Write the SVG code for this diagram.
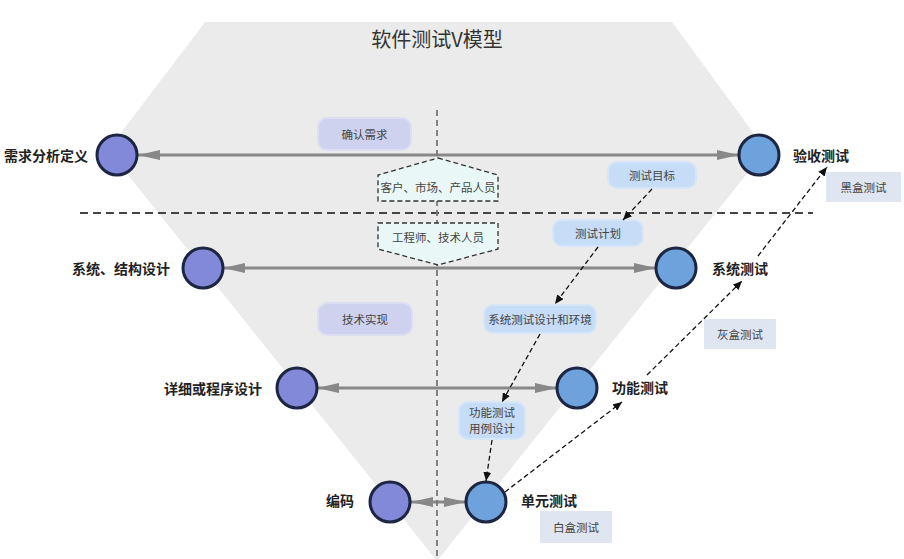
<svg xmlns="http://www.w3.org/2000/svg" width="904" height="559" viewBox="0 0 904 559">
<style>
.t{font-family:"Noto Sans CJK SC","Liberation Sans",sans-serif;}
.lbl{font-family:"Noto Sans CJK SC","Liberation Sans",sans-serif;font-size:14px;font-weight:bold;fill:#222;dominant-baseline:central;}
.bt{font-family:"Noto Sans CJK SC","Liberation Sans",sans-serif;font-size:11.5px;fill:#444;text-anchor:middle;dominant-baseline:central;}
.cl{fill:#8289d8;stroke:#1c2541;stroke-width:3;}
.cr{fill:#6ea2dc;stroke:#1c2541;stroke-width:3;}
.harr{stroke:#888;stroke-width:3;fill:none;marker-start:url(#ga);marker-end:url(#ga);}
.darr{stroke:#111;stroke-width:1.3;stroke-dasharray:5 3;fill:none;marker-end:url(#da);}
.lav{fill:#cfd2ee;stroke:#dcdff2;stroke-width:2;}
.blu{fill:#c6dcf7;stroke:#d6e6f9;stroke-width:2;}
.gb{fill:#dfe6f1;}
.hex{fill:#e9f8f6;stroke:#333;stroke-width:1.3;stroke-dasharray:5 3;}
</style>
<defs>
<marker id="ga" markerUnits="userSpaceOnUse" markerWidth="22" markerHeight="10" refX="22" refY="5" orient="auto-start-reverse" viewBox="0 0 22 10">
<path d="M0,0 L22,5 L0,10 z" fill="#888"/>
</marker>
<marker id="da" markerUnits="userSpaceOnUse" markerWidth="9" markerHeight="8" refX="9" refY="4" orient="auto" viewBox="0 0 9 8">
<path d="M0,0 L9,4 L0,8 z" fill="#111"/>
</marker>
</defs>
<rect width="904" height="559" fill="#fff"/>
<polygon points="205,22 672,22 766,150 437,561 108,150" fill="#ebebeb"/>
<text class="t" x="437" y="47" font-size="20" fill="#333" text-anchor="middle">软件测试V模型</text>
<line x1="80" y1="213" x2="813" y2="213" stroke="#444" stroke-width="1.8" stroke-dasharray="8 5"/>

<g id="boxes">
<g id="n-confirm"><rect class="lav" x="318" y="118" width="93" height="32" rx="9"/><text class="bt" x="364.5" y="134">确认需求</text></g>
<g id="n-tech"><rect class="lav" x="318" y="303" width="94" height="32" rx="9"/><text class="bt" x="365" y="319">技术实现</text></g>
<g id="n-goal"><rect class="blu" x="608" y="162" width="88" height="26" rx="9"/><text class="bt" x="652" y="175">测试目标</text></g>
<g id="n-plan"><rect class="blu" x="553" y="220" width="90" height="26" rx="9"/><text class="bt" x="598" y="233">测试计划</text></g>
<g id="n-sysdesign"><rect class="blu" x="484" y="305" width="112" height="28" rx="9"/><text class="bt" x="540" y="319">系统测试设计和环境</text></g>
<g id="n-casedesign"><rect class="blu" x="459" y="402" width="66" height="37" rx="9"/><text class="bt" x="492" y="412">功能测试</text><text class="bt" x="492" y="428">用例设计</text></g>
<g id="n-black"><rect class="gb" x="826" y="172" width="75" height="30"/><text class="bt" x="863.5" y="187">黑盒测试</text></g>
<g id="n-gray"><rect class="gb" x="704" y="319" width="72" height="30"/><text class="bt" x="740" y="334">灰盒测试</text></g>
<g id="n-white"><rect class="gb" x="540" y="511" width="72" height="32"/><text class="bt" x="576" y="527">白盒测试</text></g>
</g>

<g id="connectors">
<line class="harr" x1="138" y1="155" x2="739" y2="155"/>
<line class="harr" x1="223" y1="268" x2="656" y2="268"/>
<line class="harr" x1="317" y1="388" x2="557" y2="388"/>
<line class="harr" x1="411" y1="502" x2="466" y2="502"/>
<line x1="437" y1="110" x2="437" y2="559" stroke="#777" stroke-width="1.8" stroke-dasharray="6 4"/>
<line class="darr" x1="652" y1="189" x2="623" y2="220"/>
<line class="darr" x1="598" y1="247" x2="555" y2="304"/>
<line class="darr" x1="540" y1="334" x2="502" y2="402"/>
<line class="darr" x1="492" y1="440" x2="486" y2="481"/>
<line class="darr" x1="505" y1="492" x2="622" y2="402"/>
<line class="darr" x1="647" y1="375" x2="742" y2="281"/>
<line class="darr" x1="758" y1="256" x2="827" y2="167"/>
</g>

<g id="n-cust"><polygon class="hex" points="438,158 498,175 498,201 378,201 378,175"/><text class="bt" x="438" y="187" fill="#333">客户、市场、产品人员</text></g>
<g id="n-eng"><polygon class="hex" points="378,223 498,223 498,249 438,265 378,249"/><text class="bt" x="438" y="237" fill="#333">工程师、技术人员</text></g>

<g id="n-req"><circle class="cl" cx="117" cy="155" r="20"/><text class="lbl" x="88" y="155" text-anchor="end">需求分析定义</text></g>
<g id="n-accept"><circle class="cr" cx="759" cy="155" r="20"/><text class="lbl" x="793" y="155">验收测试</text></g>
<g id="n-arch"><circle class="cl" cx="203" cy="268" r="20"/><text class="lbl" x="170" y="268" text-anchor="end">系统、结构设计</text></g>
<g id="n-systest"><circle class="cr" cx="676" cy="268" r="20"/><text class="lbl" x="712" y="268">系统测试</text></g>
<g id="n-detail"><circle class="cl" cx="297" cy="388" r="20"/><text class="lbl" x="262" y="388" text-anchor="end">详细或程序设计</text></g>
<g id="n-functest"><circle class="cr" cx="577" cy="388" r="20"/><text class="lbl" x="612" y="387">功能测试</text></g>
<g id="n-code"><circle class="cl" cx="390" cy="502" r="20"/><text class="lbl" x="354" y="500" text-anchor="end">编码</text></g>
<g id="n-unit"><circle class="cr" cx="486" cy="502" r="20"/><text class="lbl" x="521" y="500">单元测试</text></g>
</svg>
